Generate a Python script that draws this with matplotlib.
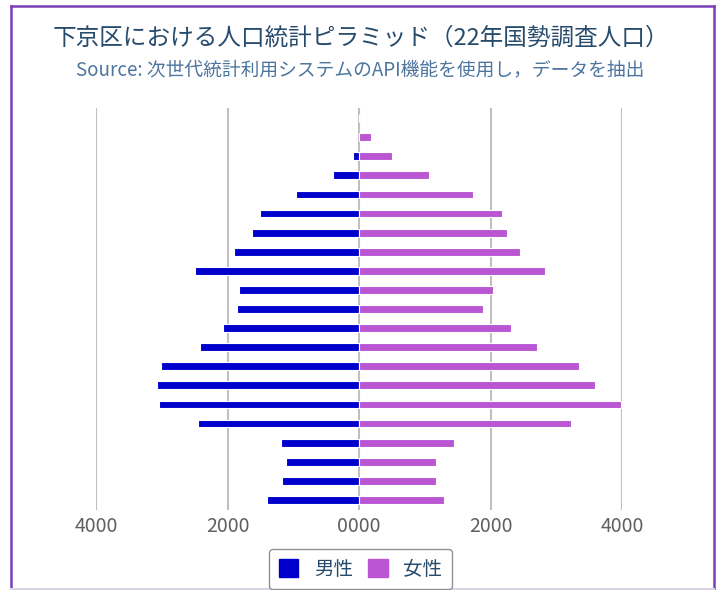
import numpy as np
import matplotlib
matplotlib.use("Agg")
import matplotlib.pyplot as plt
from matplotlib.patches import Patch
from matplotlib.lines import Line2D
from matplotlib.ticker import FuncFormatter

plt.rcParams['font.family'] = ['Noto Sans CJK JP', 'DejaVu Sans']

# 年齢階級（下から上へ）
ages = ['0～4歳', '5～9歳', '10～14歳', '15～19歳', '20～24歳', '25～29歳',
        '30～34歳', '35～39歳', '40～44歳', '45～49歳', '50～54歳', '55～59歳',
        '60～64歳', '65～69歳', '70～74歳', '75～79歳', '80～84歳', '85～89歳',
        '90～94歳', '95～99歳', '100歳以上']
male = [1404, 1167, 1110, 1186, 2449, 3042, 3068, 3016, 2423, 2073,
        1856, 1830, 2499, 1906, 1632, 1506, 963, 391, 96, 0, 0]
female = [1293, 1167, 1167, 1440, 3220, 3990, 3594, 3346, 2703, 2307,
          1881, 2033, 2824, 2453, 2256, 2180, 1739, 1069, 497, 178, 0]
xticks = [-4000, -2000, 0, 2000, 4000]

title = '下京区における人口統計ピラミッド（22年国勢調査人口）'
subtitle = 'Source: 次世代統計利用システムのAPI機能を使用し，データを抽出'

c_male = '#0000CD'
c_female = '#BA55D3'

fig = plt.figure(figsize=(7.21, 5.90), dpi=100)
ax = fig.add_axes([96/721, 1-509.5/590, 526/721, 401/590])

y = np.arange(len(ages))
ax.barh(y, -np.array(male), height=0.41, color=c_male, edgecolor='white', linewidth=0.8, zorder=3)
ax.barh(y, female, height=0.41, color=c_female, edgecolor='white', linewidth=0.8, zorder=3)

ax.set_xlim(-4000, 4000)
ax.set_ylim(-0.5, len(ages)-0.5)
ax.set_xticks(xticks)
ax.xaxis.set_major_formatter(FuncFormatter(lambda v, p: '%04d' % abs(v)))
ax.set_yticks(y, labels=ages)
ax.tick_params(axis='y', left=False, labelleft=False)
ax.tick_params(axis='x', length=0, pad=5, labelsize=14, labelcolor='#606060')
ax.grid(axis='x', color='#C0C0C0', linewidth=1.5, zorder=0)
ax.set_axisbelow(True)
for s in ax.spines.values():
    s.set_visible(False)

fig.text(0.5, 1-38/590, title, ha='center', va='center', fontsize=17, color='#274b6d')
fig.text(0.5, 1-70/590, subtitle, ha='center', va='center', fontsize=13.5, color='#4d759e')

handles = [Patch(facecolor=c_male, edgecolor=c_male), Patch(facecolor=c_female, edgecolor=c_female)]
leg = fig.legend(handles, ['男性', '女性'], loc='upper center', bbox_to_anchor=(0.5, 1-549/590),
                 ncol=2, fontsize=14, handlelength=1.0, handleheight=1.0, handletextpad=0.8,
                 columnspacing=0.8, borderpad=0.5, borderaxespad=0, fancybox=True, framealpha=1)
leg.get_frame().set_edgecolor('#909090')
leg.get_frame().set_linewidth(1.0)
for t in leg.get_texts():
    t.set_color('#274b6d')

# chart frame
fc = '#7B3FB5'
fig.add_artist(Line2D([11/721, 11/721], [0, 1-6/590], color=fc, linewidth=1.8))
fig.add_artist(Line2D([714/721, 714/721], [0, 1-6/590], color=fc, linewidth=1.8))
fig.add_artist(Line2D([11/721, 714/721], [1-6/590, 1-6/590], color=fc, linewidth=1.8))
fig.add_artist(Line2D([11/721, 714/721], [1.5/590, 1.5/590], color='#DCD3E6', linewidth=1.5))

fig.savefig('out.png', dpi=100)
